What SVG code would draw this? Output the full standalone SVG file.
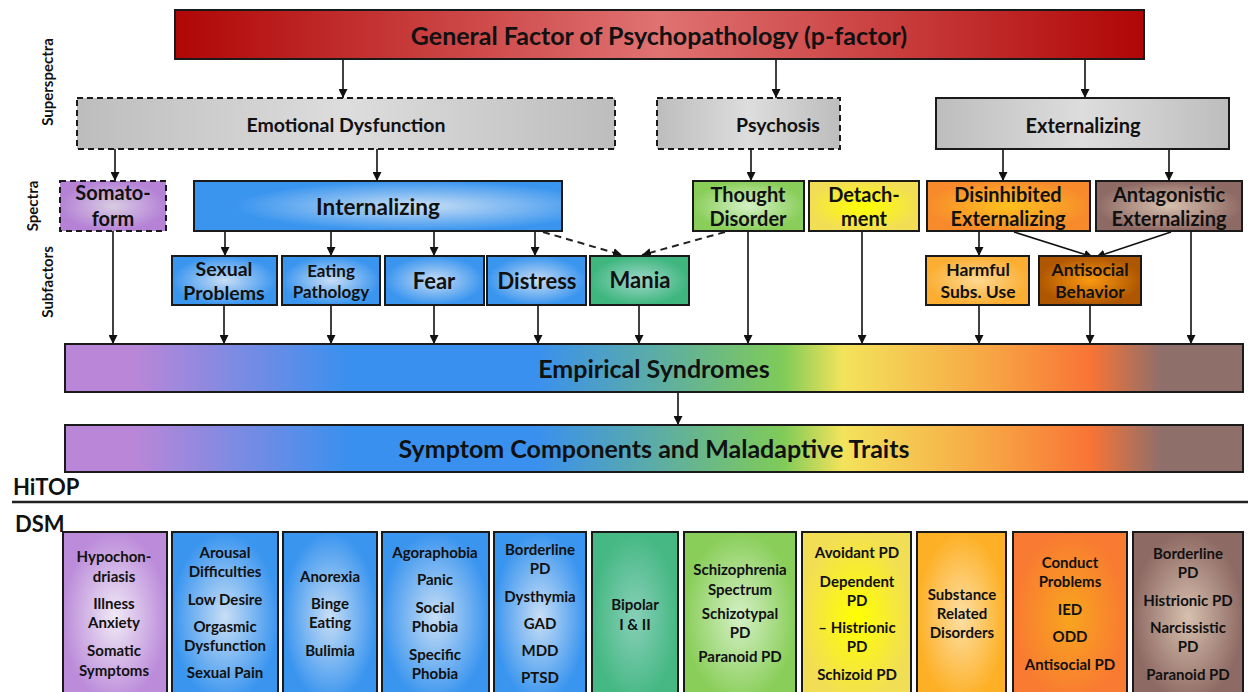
<svg xmlns="http://www.w3.org/2000/svg" width="1248" height="692" viewBox="0 0 1248 692">
<style>
text{font-family:Lato,"Open Sans","Liberation Sans",sans-serif;font-weight:bold;fill:#111;text-anchor:middle}
.box{stroke:#1a1a1a;stroke-width:2}
.dash{stroke-dasharray:6,4}
.c{stroke:#111;stroke-width:1.6;fill:none;marker-end:url(#ah)}
.cd{stroke:#222;stroke-width:2;fill:none;stroke-dasharray:7,5;marker-end:url(#ah)}
.sup{font-size:19.5px}.spec{font-size:20px}.big{font-size:22.5px}.sub{font-size:22px}.sm{font-size:17.5px}.bar{font-size:25px}.dsm{font-size:15px}
.lab{font-size:15px}
</style>
<defs>
<marker id="ah" markerUnits="userSpaceOnUse" markerWidth="9" markerHeight="9" refX="9" refY="4.5" orient="auto"><path d="M0,0 L9,4.5 L0,9 z" fill="#111"/></marker>
<linearGradient id="gRed" x1="0" x2="1" y1="0" y2="0"><stop offset="0" stop-color="#B00606"/><stop offset="0.5" stop-color="#E07272"/><stop offset="1" stop-color="#B00606"/></linearGradient>
<linearGradient id="gGray" x1="0" x2="1"><stop offset="0" stop-color="#BDBDBD"/><stop offset="0.5" stop-color="#DDDDDD"/><stop offset="1" stop-color="#BDBDBD"/></linearGradient>
<linearGradient id="gBar" x1="0" x2="1"><stop offset="0" stop-color="#B986D8"/><stop offset="0.06" stop-color="#B986D8"/><stop offset="0.24" stop-color="#3A90EE"/><stop offset="0.4" stop-color="#3A90EE"/><stop offset="0.61" stop-color="#80CB58"/><stop offset="0.66" stop-color="#F3E35C"/><stop offset="0.78" stop-color="#F7A845"/><stop offset="0.87" stop-color="#F97436"/><stop offset="0.93" stop-color="#8F6F6A"/><stop offset="1" stop-color="#8F6F6A"/></linearGradient>
<radialGradient id="gPur"><stop offset="0" stop-color="#D8CCE2"/><stop offset="1" stop-color="#B582D6"/></radialGradient>
<radialGradient id="gPurL"><stop offset="0" stop-color="#F0EAF6"/><stop offset="1" stop-color="#BC8CDA"/></radialGradient>
<radialGradient id="gBlue"><stop offset="0" stop-color="#C8DEF5"/><stop offset="1" stop-color="#3A95EF"/></radialGradient>
<radialGradient id="gBlueI" cx="0.61" r="0.5"><stop offset="0" stop-color="#C8DEF5"/><stop offset="1" stop-color="#3A95EF"/></radialGradient>
<radialGradient id="gTeal"><stop offset="0" stop-color="#A0D8CA"/><stop offset="1" stop-color="#3EB67E"/></radialGradient>
<radialGradient id="gTealD"><stop offset="0" stop-color="#88CFB8"/><stop offset="1" stop-color="#45B883"/></radialGradient>
<radialGradient id="gGreen"><stop offset="0" stop-color="#D4F0C6"/><stop offset="1" stop-color="#8ACE5A"/></radialGradient>
<radialGradient id="gYel"><stop offset="0" stop-color="#FFFF00"/><stop offset="1" stop-color="#F2DE55"/></radialGradient>
<radialGradient id="gOrY"><stop offset="0" stop-color="#FFC21E"/><stop offset="1" stop-color="#F78B2C"/></radialGradient>
<radialGradient id="gBrown"><stop offset="0" stop-color="#D7C0AE"/><stop offset="1" stop-color="#8E6A64"/></radialGradient>
<radialGradient id="gHarm"><stop offset="0" stop-color="#FDD892"/><stop offset="1" stop-color="#FBAE32"/></radialGradient>
<radialGradient id="gAnti"><stop offset="0" stop-color="#FA9A12"/><stop offset="1" stop-color="#AF5600"/></radialGradient>
<radialGradient id="gSub"><stop offset="0" stop-color="#FDDFA5"/><stop offset="1" stop-color="#FDB025"/></radialGradient>
<radialGradient id="gOrg"><stop offset="0" stop-color="#F8A51E"/><stop offset="1" stop-color="#F97A32"/></radialGradient>
</defs>
<rect width="1248" height="692" fill="#fff"/>

<g id="level-labels">
<text class="lab" transform="translate(53,82) rotate(-90)">Superspectra</text>
<text class="lab" transform="translate(38,206) rotate(-90)">Spectra</text>
<text class="lab" transform="translate(53,282) rotate(-90)">Subfactors</text>
</g>

<g id="connectors">
<path class="c" d="M343,59 V98"/>
<path class="c" d="M776,59 V98"/>
<path class="c" d="M1085,59 V98"/>
<path class="c" d="M115,149 V181"/>
<path class="c" d="M377,149 V181"/>
<path class="c" d="M751,149 V181"/>
<path class="c" d="M1003,149 V181"/>
<path class="c" d="M1169,149 V181"/>
<path class="c" d="M225,231 V256"/>
<path class="c" d="M331,231 V256"/>
<path class="c" d="M434,231 V256"/>
<path class="c" d="M535,231 V256"/>
<path class="cd" d="M543,232 L622,255"/>
<path class="cd" d="M725,232 L642,255"/>
<path class="c" d="M979,231 V256"/>
<path class="c" d="M1014,232 L1093,257"/>
<path class="c" d="M1171,232 L1096,257"/>
<path class="c" d="M113,231 V344"/>
<path class="c" d="M224,305 V344"/>
<path class="c" d="M331,305 V344"/>
<path class="c" d="M434,305 V344"/>
<path class="c" d="M538,305 V344"/>
<path class="c" d="M639,305 V344"/>
<path class="c" d="M748,231 V344"/>
<path class="c" d="M862,231 V344"/>
<path class="c" d="M979,305 V344"/>
<path class="c" d="M1090,305 V344"/>
<path class="c" d="M1191,231 V344"/>
<path class="c" d="M678,392 V425"/>
</g>

<g id="p-factor"><rect class="box" x="175" y="10" width="969" height="49" fill="url(#gRed)"/><text x="659" y="45" style="font-size:25px">General Factor of Psychopathology (p-factor)</text></g>

<g id="emotional-dysfunction"><rect class="box dash" x="77" y="98" width="538" height="51" fill="url(#gGray)"/><text class="sup" x="346" y="132">Emotional Dysfunction</text></g>
<g id="psychosis"><rect class="box dash" x="657" y="98" width="183" height="51" fill="url(#gGray)"/><text class="sup" x="778" y="132">Psychosis</text></g>
<g id="externalizing"><rect class="box" x="936" y="98" width="293" height="51" fill="url(#gGray)"/><text class="spec" x="1083" y="133">Externalizing</text></g>

<g id="somatoform"><rect class="box dash" x="60" y="181" width="106" height="50" fill="url(#gPur)"/><text class="spec" x="113" y="200">Somato-</text><text class="spec" x="113" y="226">form</text></g>
<g id="internalizing"><rect class="box" x="194" y="181" width="368" height="50" fill="url(#gBlueI)"/><text class="big" x="378" y="215">Internalizing</text></g>
<g id="thought-disorder"><rect class="box" x="693" y="181" width="111" height="50" fill="url(#gGreen)"/><text class="spec" x="748" y="202">Thought</text><text class="spec" x="748" y="226">Disorder</text></g>
<g id="detachment"><rect class="box" x="809" y="181" width="110" height="50" fill="url(#gYel)"/><text class="spec" x="864" y="202">Detach-</text><text class="spec" x="864" y="226">ment</text></g>
<g id="disinhibited"><rect class="box" x="927" y="181" width="163" height="50" fill="url(#gOrY)"/><text class="spec" x="1008" y="202">Disinhibited</text><text class="spec" x="1008" y="226">Externalizing</text></g>
<g id="antagonistic"><rect class="box" x="1096" y="181" width="146" height="50" fill="url(#gBrown)"/><text class="spec" x="1169" y="202">Antagonistic</text><text class="spec" x="1169" y="226">Externalizing</text></g>

<g id="sexual-problems"><rect class="box" x="172" y="256" width="105" height="49" fill="url(#gBlue)"/><text class="sup" x="224" y="276">Sexual</text><text class="sup" x="224" y="300">Problems</text></g>
<g id="eating-pathology"><rect class="box" x="282" y="256" width="98" height="49" fill="url(#gBlue)"/><text x="331" y="277" style="font-size:17px">Eating</text><text x="331" y="298" style="font-size:17px">Pathology</text></g>
<g id="fear"><rect class="box" x="385" y="256" width="99" height="49" fill="url(#gBlue)"/><text class="sub" x="434" y="289">Fear</text></g>
<g id="distress"><rect class="box" x="487" y="256" width="99" height="49" fill="url(#gBlue)"/><text class="sub" x="537" y="289">Distress</text></g>
<g id="mania"><rect class="box" x="590" y="256" width="99" height="49" fill="url(#gTeal)"/><text class="sub" x="640" y="288">Mania</text></g>
<g id="harmful-subs-use"><rect class="box" x="926" y="256" width="103" height="49" fill="url(#gHarm)"/><text class="sm" x="978" y="276">Harmful</text><text class="sm" x="978" y="298">Subs. Use</text></g>
<g id="antisocial-behavior"><rect class="box" x="1039" y="256" width="102" height="49" fill="url(#gAnti)"/><text class="sm" x="1090" y="276">Antisocial</text><text class="sm" x="1090" y="298">Behavior</text></g>

<g id="empirical-syndromes"><rect class="box" x="65" y="344" width="1178" height="48" fill="url(#gBar)"/><text class="bar" x="654" y="378">Empirical Syndromes</text></g>
<g id="symptom-components"><rect class="box" x="65" y="425" width="1178" height="47" fill="url(#gBar)"/><text class="bar" x="654" y="458">Symptom Components and Maladaptive Traits</text></g>

<g id="divider">
<text x="13" y="495" style="font-size:22px;text-anchor:start">HiTOP</text>
<line x1="12" y1="502" x2="1248" y2="502" stroke="#222" stroke-width="2.5"/>
<text x="15" y="532" style="font-size:22px;text-anchor:start">DSM</text>
</g>

<g id="dsm-somatoform"><rect class="box" x="63" y="532" width="104" height="170" fill="url(#gPurL)"/>
<text class="dsm" x="114" y="562">Hypochon-</text><text class="dsm" x="114" y="582">driasis</text><text class="dsm" x="114" y="609">Illness</text><text class="dsm" x="114" y="628">Anxiety</text><text class="dsm" x="114" y="656">Somatic</text><text class="dsm" x="114" y="676">Symptoms</text></g>
<g id="dsm-sexual"><rect class="box" x="172" y="532" width="106" height="170" fill="url(#gBlue)"/>
<text class="dsm" x="225" y="558">Arousal</text><text class="dsm" x="225" y="577">Difficulties</text><text class="dsm" x="225" y="605">Low Desire</text><text class="dsm" x="225" y="632">Orgasmic</text><text class="dsm" x="225" y="651">Dysfunction</text><text class="dsm" x="225" y="678">Sexual Pain</text></g>
<g id="dsm-eating"><rect class="box" x="283" y="532" width="94" height="170" fill="url(#gBlue)"/>
<text class="dsm" x="330" y="582">Anorexia</text><text class="dsm" x="330" y="609">Binge</text><text class="dsm" x="330" y="628">Eating</text><text class="dsm" x="330" y="656">Bulimia</text></g>
<g id="dsm-fear"><rect class="box" x="382" y="532" width="107" height="170" fill="url(#gBlue)"/>
<text class="dsm" x="435" y="558">Agoraphobia</text><text class="dsm" x="435" y="585">Panic</text><text class="dsm" x="435" y="613">Social</text><text class="dsm" x="435" y="632">Phobia</text><text class="dsm" x="435" y="660">Specific</text><text class="dsm" x="435" y="679">Phobia</text></g>
<g id="dsm-distress"><rect class="box" x="494" y="532" width="92" height="170" fill="url(#gBlue)"/>
<text class="dsm" x="540" y="555">Borderline</text><text class="dsm" x="540" y="574">PD</text><text class="dsm" x="540" y="602">Dysthymia</text><text class="dsm" x="540" y="629">GAD</text><text class="dsm" x="540" y="656">MDD</text><text class="dsm" x="540" y="683">PTSD</text></g>
<g id="dsm-mania"><rect class="box" x="592" y="532" width="86" height="170" fill="url(#gTealD)"/>
<text class="dsm" x="635" y="610">Bipolar</text><text class="dsm" x="635" y="630">I &amp; II</text></g>
<g id="dsm-thought"><rect class="box" x="684" y="532" width="112" height="170" fill="url(#gGreen)"/>
<text class="dsm" x="740" y="575">Schizophrenia</text><text class="dsm" x="740" y="595">Spectrum</text><text class="dsm" x="740" y="619">Schizotypal</text><text class="dsm" x="740" y="638">PD</text><text class="dsm" x="740" y="662">Paranoid PD</text></g>
<g id="dsm-detachment"><rect class="box" x="802" y="532" width="109" height="170" fill="url(#gYel)"/>
<text class="dsm" x="857" y="558">Avoidant PD</text><text class="dsm" x="857" y="587">Dependent</text><text class="dsm" x="857" y="606">PD</text><text class="dsm" x="857" y="633">– Histrionic</text><text class="dsm" x="857" y="652">PD</text><text class="dsm" x="857" y="680">Schizoid PD</text></g>
<g id="dsm-substance"><rect class="box" x="917" y="532" width="89" height="170" fill="url(#gSub)"/>
<text class="dsm" x="962" y="600">Substance</text><text class="dsm" x="962" y="619">Related</text><text class="dsm" x="962" y="638">Disorders</text></g>
<g id="dsm-antisocial"><rect class="box" x="1013" y="532" width="114" height="170" fill="url(#gOrg)"/>
<text class="dsm" x="1070" y="568">Conduct</text><text class="dsm" x="1070" y="587">Problems</text><text class="dsm" x="1070" y="615">IED</text><text class="dsm" x="1070" y="642">ODD</text><text class="dsm" x="1070" y="670">Antisocial PD</text></g>
<g id="dsm-antagonistic"><rect class="box" x="1133" y="532" width="110" height="170" fill="url(#gBrown)"/>
<text class="dsm" x="1188" y="559">Borderline</text><text class="dsm" x="1188" y="578">PD</text><text class="dsm" x="1188" y="606">Histrionic PD</text><text class="dsm" x="1188" y="633">Narcissistic</text><text class="dsm" x="1188" y="652">PD</text><text class="dsm" x="1188" y="680">Paranoid PD</text></g>
</svg>
